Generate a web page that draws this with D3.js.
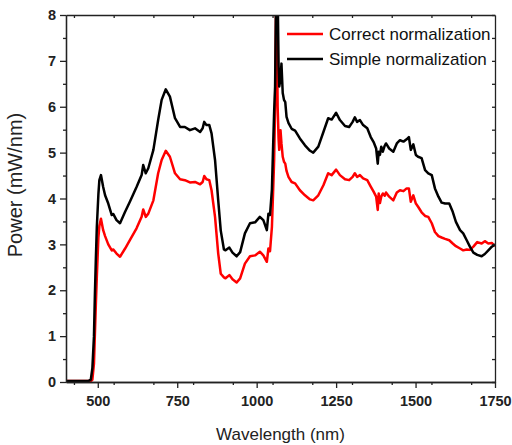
<!DOCTYPE html>
<html>
<head>
<meta charset="utf-8">
<script src="https://cdn.jsdelivr.net/npm/d3@7"></script>
<style>
  body { margin: 0; background: #fff; }
  svg { font-family: "Liberation Sans", Arial, sans-serif; }
</style>
</head>
<body>
<svg id="chart"></svg>
<script>
// Wavelength samples (nm) shared by both series
var wavelengths = [400, 470, 478, 483, 488, 491, 494, 497, 502, 505, 510, 517, 523, 533, 544, 549, 559, 570, 586, 601,
  622, 638, 643, 651, 659, 675, 690, 701, 714, 727, 743, 759, 774, 790, 806, 822, 830, 835, 842, 851,
  858, 869, 879, 887, 897, 902, 914, 924, 937, 948, 963, 979, 995, 1010, 1021, 1032, 1037, 1042, 1048, 1052,
  1055, 1058, 1062, 1066, 1069, 1071, 1075, 1078, 1082, 1086, 1090, 1094, 1100, 1110, 1121, 1136, 1152, 1168, 1178, 1194,
  1210, 1225, 1236, 1250, 1262, 1278, 1291, 1302, 1309, 1316, 1325, 1335, 1348, 1359, 1368, 1376, 1381, 1384, 1388, 1392,
  1397, 1403, 1407, 1417, 1430, 1441, 1451, 1462, 1472, 1479, 1485, 1493, 1501, 1508, 1519, 1530, 1540, 1551, 1561, 1572,
  1582, 1593, 1606, 1617, 1627, 1640, 1650, 1661, 1671, 1682, 1694, 1708, 1718, 1729, 1740, 1750];

// Power (mW/nm), correct normalization (red)
var correctPower = [0.02, 0.02, 0.02, 0.05, 0.4, 1.06, 1.7, 2.29, 3.16, 3.4, 3.56, 3.31, 3.18, 3.0, 2.87, 2.89, 2.8, 2.73, 2.91, 3.09,
  3.35, 3.6, 3.76, 3.6, 3.67, 3.96, 4.55, 4.84, 5.04, 4.91, 4.55, 4.42, 4.4, 4.35, 4.36, 4.31, 4.36, 4.49, 4.42, 4.4,
  4.18, 3.6, 2.8, 2.36, 2.28, 2.26, 2.33, 2.24, 2.17, 2.26, 2.58, 2.74, 2.76, 2.84, 2.76, 2.62, 2.91, 2.85, 3.38, 4.2,
  4.84, 6.0, 9.0, 6.0, 5.3, 5.06, 5.49, 5.2, 4.91, 4.8, 4.76, 4.6, 4.47, 4.36, 4.33, 4.18, 4.07, 3.98, 3.96, 4.07,
  4.29, 4.55, 4.51, 4.63, 4.51, 4.42, 4.4, 4.47, 4.55, 4.47, 4.51, 4.44, 4.4, 4.26, 4.15, 4.04, 3.75, 4.11, 3.9, 4.04,
  4.11, 4.06, 4.13, 4.04, 3.96, 4.13, 4.18, 4.16, 4.22, 4.22, 3.93, 4.07, 3.89, 3.82, 3.7, 3.62, 3.6, 3.46, 3.27, 3.18,
  3.15, 3.12, 3.09, 3.02, 2.96, 2.91, 2.87, 2.89, 2.88, 2.95, 3.05, 3.02, 3.07, 3.02, 3.03, 2.96];

// Power (mW/nm), simple normalization (black)
var simplePower = [0.02, 0.02, 0.05, 0.3, 1.0, 1.93, 2.7, 3.38, 4.1, 4.4, 4.51, 4.25, 4.07, 3.89, 3.64, 3.66, 3.53, 3.46, 3.71, 3.93,
  4.25, 4.51, 4.73, 4.55, 4.66, 5.06, 5.71, 6.15, 6.38, 6.22, 5.75, 5.56, 5.56, 5.49, 5.53, 5.45, 5.53, 5.67, 5.6, 5.6,
  5.42, 4.84, 3.96, 3.3, 2.89, 2.87, 2.93, 2.82, 2.74, 2.83, 3.24, 3.46, 3.48, 3.6, 3.53, 3.31, 3.67, 3.64, 4.2, 5.2,
  5.9, 6.44, 9.0, 8.5, 6.9, 6.44, 6.6, 6.94, 6.3, 6.15, 6.1, 5.78, 5.65, 5.52, 5.48, 5.31, 5.16, 5.04, 5.0, 5.13,
  5.45, 5.75, 5.72, 5.87, 5.71, 5.58, 5.56, 5.67, 5.77, 5.67, 5.71, 5.6, 5.53, 5.34, 5.23, 5.09, 4.76, 5.02, 4.95, 5.13,
  5.02, 5.15, 5.2, 5.09, 5.02, 5.2, 5.27, 5.24, 5.29, 5.34, 5.06, 5.18, 4.95, 4.91, 4.88, 4.62, 4.55, 4.51, 4.22, 4.04,
  3.91, 3.89, 3.89, 3.71, 3.49, 3.31, 3.24, 3.09, 2.95, 2.82, 2.77, 2.74, 2.79, 2.87, 2.95, 3.0];

var seriesNames = ["Correct normalization", "Simple normalization"];
var seriesColors = ["#ff0000", "#000000"];
var xTicks = [500, 750, 1000, 1250, 1500, 1750];
var yTicks = [0, 1, 2, 3, 4, 5, 6, 7, 8];

var margin = { top: 15, right: 17, bottom: 63, left: 66 };
var width = 512 - margin.left - margin.right;
var height = 445 - margin.top - margin.bottom;

var svg = d3.select("#chart")
  .attr("width", 512)
  .attr("height", 445)
  .append("g")
  .attr("transform", "translate(" + margin.left + "," + margin.top + ")");

var x = d3.scaleLinear().domain([400, 1750]).range([0, width]);
var y = d3.scaleLinear().domain([0, 8]).range([height, 0]);

svg.append("clipPath").attr("id", "plotclip")
  .append("rect").attr("width", width).attr("height", height);

// lines
var line = d3.line()
  .x(function (d) { return x(d[0]); })
  .y(function (d) { return y(d[1]); });

[correctPower, simplePower].forEach(function (vals, i) {
  var pts = wavelengths.map(function (w, j) { return [w, vals[j]]; });
  svg.append("path")
    .datum(pts)
    .attr("clip-path", "url(#plotclip)")
    .attr("fill", "none")
    .attr("stroke", seriesColors[i])
    .attr("stroke-width", 2.5)
    .attr("stroke-linejoin", "round")
    .attr("d", line);
});

// minor tick values
var xMinor = d3.range(425, 1751, 125);
var yMinor = d3.range(0, 8.01, 0.5);

// bottom axis
var gx = svg.append("g")
  .attr("transform", "translate(0," + height + ")")
  .call(d3.axisBottom(x).tickValues(xTicks).tickFormat(d3.format("d")).tickSize(6).tickSizeOuter(0));
svg.append("g")
  .attr("transform", "translate(0," + height + ")")
  .call(d3.axisBottom(x).tickValues(xMinor.filter(function (v) { return xTicks.indexOf(v) < 0; })).tickSize(3).tickFormat("").tickSizeOuter(0));

// left axis
var gy = svg.append("g")
  .call(d3.axisLeft(y).tickValues(yTicks).tickFormat(d3.format("d")).tickSize(6).tickSizeOuter(0));
svg.append("g")
  .call(d3.axisLeft(y).tickValues(yMinor.filter(function (v) { return v % 1 !== 0; })).tickSize(3).tickFormat("").tickSizeOuter(0));

// mirrored top and right axes, ticks inside
svg.append("g")
  .call(d3.axisBottom(x).tickValues(xMinor).tickSize(3).tickFormat("").tickSizeOuter(0));
svg.append("g")
  .attr("transform", "translate(" + width + ",0)")
  .call(d3.axisLeft(y).tickValues(yMinor).tickSize(3).tickFormat("").tickSizeOuter(0));

svg.selectAll(".domain, .tick line").attr("stroke", "#222").attr("stroke-width", 1.3);

[gx, gy].forEach(function (g) {
  g.attr("font-family", "Liberation Sans, Arial, sans-serif")
    .attr("font-size", 14.5)
    .attr("font-weight", "bold");
  g.selectAll("text").attr("fill", "#222");
});
gx.selectAll("text").attr("dy", "1.05em");
gy.selectAll("text").attr("x", -10);

// axis titles
svg.append("text")
  .attr("x", width / 2)
  .attr("y", height + 58)
  .attr("text-anchor", "middle")
  .style("font-size", "17px")
  .attr("fill", "#222")
  .text("Wavelength (nm)");

svg.append("text")
  .attr("transform", "translate(" + (-44) + "," + (185 - margin.top) + ") rotate(-90)")
  .attr("text-anchor", "middle")
  .style("font-size", "20px")
  .attr("fill", "#222")
  .text("Power (mW/nm)");

// legend
seriesNames.forEach(function (name, i) {
  var ly = 19 + i * 25;
  svg.append("line")
    .attr("x1", 221).attr("x2", 257)
    .attr("y1", ly).attr("y2", ly)
    .attr("stroke", seriesColors[i]).attr("stroke-width", 2.5);
  svg.append("text")
    .attr("x", 263).attr("y", ly)
    .attr("dy", "0.35em")
    .style("font-size", "17px")
    .attr("fill", "#111")
    .text(name);
});
</script>
</body>
</html>
